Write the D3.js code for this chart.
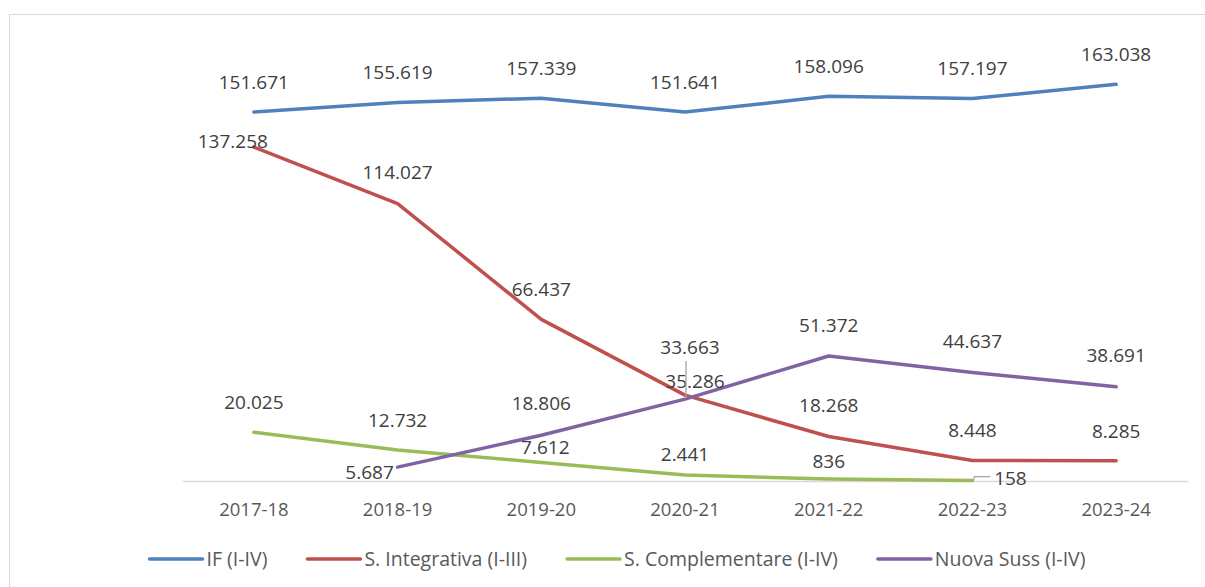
<!DOCTYPE html>
<html>
<head>
<meta charset="utf-8">
<script src="https://cdn.jsdelivr.net/npm/d3@7"></script>
<style>
  body { margin: 0; background: #fff; }
  text { font-family: "Open Sans", "Noto Sans", sans-serif; }
</style>
</head>
<body>
<div id="chart"></div>
<script>
// categories and series values (Italian thousands separator in labels)
const years = ["2017-18", "2018-19", "2019-20", "2020-21", "2021-22", "2022-23", "2023-24"];
const seriesNames = ["IF (I-IV)", "S. Integrativa (I-III)", "S. Complementare (I-IV)", "Nuova Suss (I-IV)"];
const ifValues = [151671, 155619, 157339, 151641, 158096, 157197, 163038];
const integrativaValues = [137258, 114027, 66437, 35286, 18268, 8448, 8285];
const complementareValues = [20025, 12732, 7612, 2441, 836, 158, null];
const nuovaSussValues = [null, 5687, 18806, 33663, 51372, 44637, 38691];
const colors = ["#4f81bd", "#c0504d", "#9bbb59", "#8064a2"];

// data label placement (offset of label centre from the point)
const ifLabelPos = [[0, -30], [0, -30], [0, -30], [0, -30], [0, -30], [0, -30], [0, -30]];
const integrativaLabelPos = [[-21, -6], [0, -31], [0, -30], [10, -14], [0, -31], [0, -30], [0, -30]];
const complementareLabelPos = [[0, -30], [0, -30], [4, -15], [0, -21], [0, -18], [38, -2], null];
const nuovaSussLabelPos = [null, [-28, 5], [0, -32], [5, -52], [0, -31], [0, -31], [0, -32]];
const complementareLeader = [false, false, false, false, false, true, false];
const nuovaSussLeader = [false, false, false, true, false, false, false];

function setupChart() {
    const width = 1205
    const height = 587
    const baseY = 481

    const svg = d3.select("#chart")
        .append("svg")
        .attr("width", width)
        .attr("height", height);

    // chart area border (right and bottom fall outside the picture)
    svg.append("rect")
        .attr("x", 9.5).attr("y", 14.5)
        .attr("width", 1210).attr("height", 590)
        .attr("fill", "#fff")
        .attr("stroke", "#d9d9d9");

    const x = d3.scaleBand()
        .domain(years)
        .range([182, 1188]);

    const y = d3.scaleLinear()
        .domain([0, 180000])
        .range([baseY, baseY - 180 * 2.433]);

    const fmt = d3.formatLocale({ decimal: ",", thousands: ".", grouping: [3], currency: ["", "€"] }).format(",d");

    // category axis
    const xAxis = svg.append("g")
        .attr("transform", "translate(0," + baseY + ")")
        .call(d3.axisBottom(x).tickSize(0).tickPadding(22));
    xAxis.select(".domain").attr("stroke", "#d9d9d9").attr("stroke-width", 1.3);
    xAxis.selectAll("text")
        .attr("fill", "#595959")
        .style("font-family", '"Open Sans", sans-serif')
        .style("font-size", "18.5px");

    const series = [
        { name: seriesNames[0], values: ifValues, pos: ifLabelPos, leader: [] },
        { name: seriesNames[1], values: integrativaValues, pos: integrativaLabelPos, leader: [] },
        { name: seriesNames[2], values: complementareValues, pos: complementareLabelPos, leader: complementareLeader },
        { name: seriesNames[3], values: nuovaSussValues, pos: nuovaSussLabelPos, leader: nuovaSussLeader }
    ];

    const cx = function (i) { return x(years[i]) + x.bandwidth() / 2; };

    const line = d3.line()
        .defined(function (d) { return d.v !== null; })
        .x(function (d) { return cx(d.i); })
        .y(function (d) { return y(d.v); });

    series.forEach(function (s, k) {
        const pts = s.values.map(function (v, i) { return { v: v, i: i }; });
        svg.append("path")
            .datum(pts)
            .attr("d", line)
            .attr("fill", "none")
            .attr("stroke", colors[k])
            .attr("stroke-width", 3.5)
            .attr("stroke-linejoin", "round")
            .attr("stroke-linecap", "round");
    });

    // data labels, drawn after all lines
    series.forEach(function (s, k) {
        s.values.forEach(function (v, i) {
            if (v === null) return;
            const px = cx(i), py = y(v);
            const lx = px + s.pos[i][0], ly = py + s.pos[i][1];
            const t = svg.append("text")
                .attr("x", lx)
                .attr("y", ly)
                .attr("dy", "0.36em")
                .attr("text-anchor", "middle")
                .attr("fill", "#404040")
                .style("font-size", "19px")
                .text(fmt(v));
            if (s.leader[i]) {
                const halfW = t.node().getComputedTextLength() / 2;
                let pts;
                if (Math.abs(s.pos[i][0]) > 20) {
                    pts = [[px + 1, py], [px + 2, py - 4], [lx - halfW - 4, py - 4]];
                } else {
                    pts = [[px + 1, py - 1], [px + 1, ly + 14]];
                }
                svg.append("polyline")
                    .attr("points", pts.join(" "))
                    .attr("fill", "none")
                    .attr("stroke", "#a6a6a6")
                    .attr("stroke-width", 1.3);
            }
        });
    });

    // legend
    const legend = svg.append("g");
    let lxPos = 0;
    seriesNames.forEach(function (name, k) {
        const g = legend.append("g").attr("transform", "translate(" + lxPos + ",0)");
        g.append("line")
            .attr("x1", 0).attr("x2", 53)
            .attr("y1", 0).attr("y2", 0)
            .attr("stroke", colors[k])
            .attr("stroke-width", 3.5)
            .attr("stroke-linecap", "round");
        const t = g.append("text")
            .attr("x", 57)
            .attr("y", 0)
            .attr("dy", "0.36em")
            .attr("fill", "#595959")
            .style("font-size", "19.5px")
            .text(name);
        lxPos += 57 + t.node().getComputedTextLength() + 40;
    });
    const legendW = lxPos - 40;
    legend.attr("transform", "translate(" + (617.5 - legendW / 2) + ",559)");

    console.log(`[] chart created`);
}

setupChart();
</script>
</body>
</html>
